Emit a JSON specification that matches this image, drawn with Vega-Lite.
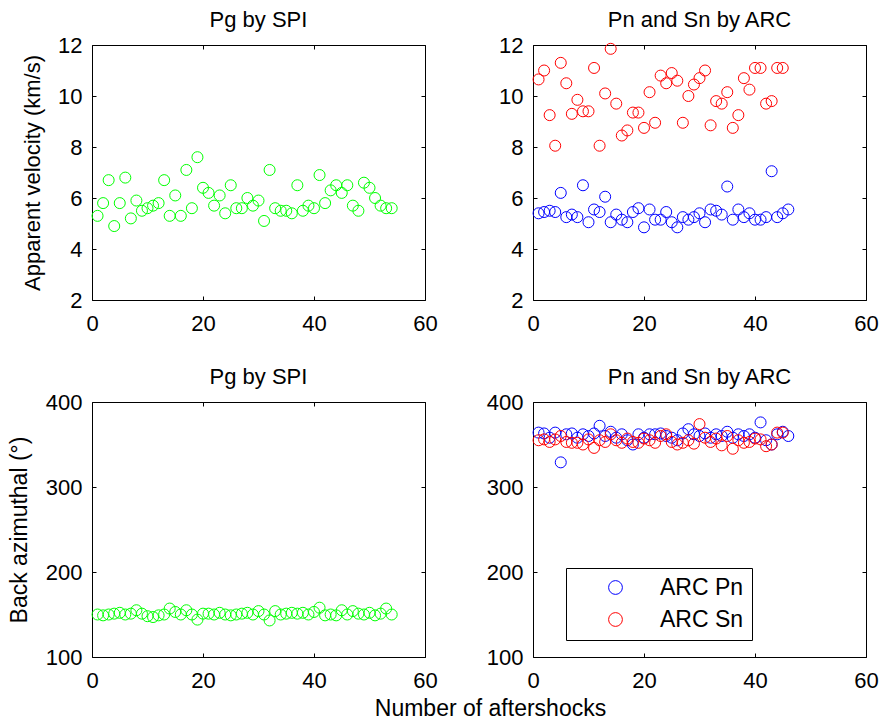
{
  "$schema": "https://vega.github.io/schema/vega-lite/v6.json",
  "autosize": "none",
  "padding": {"left": 92, "top": 45, "right": 793, "bottom": 679},
  "datasets": {
    "spi": [
      {"n":1,"vel":5.3,"baz":150},{"n":2,"vel":5.8,"baz":149},{"n":3,"vel":6.7,"baz":150},{"n":4,"vel":4.9,"baz":151},
      {"n":5,"vel":5.8,"baz":152},{"n":6,"vel":6.8,"baz":150},{"n":7,"vel":5.2,"baz":151},{"n":8,"vel":5.9,"baz":155},
      {"n":9,"vel":5.5,"baz":151},{"n":10,"vel":5.6,"baz":148},{"n":11,"vel":5.7,"baz":147},{"n":12,"vel":5.8,"baz":149},
      {"n":13,"vel":6.7,"baz":150},{"n":14,"vel":5.3,"baz":157},{"n":15,"vel":6.1,"baz":153},{"n":16,"vel":5.3,"baz":150},
      {"n":17,"vel":7.1,"baz":155},{"n":18,"vel":5.6,"baz":150},{"n":19,"vel":7.6,"baz":144},{"n":20,"vel":6.4,"baz":151},
      {"n":21,"vel":6.2,"baz":151},{"n":22,"vel":5.7,"baz":150},{"n":23,"vel":6.1,"baz":152},{"n":24,"vel":5.4,"baz":150},
      {"n":25,"vel":6.5,"baz":149},{"n":26,"vel":5.6,"baz":150},{"n":27,"vel":5.6,"baz":151},{"n":28,"vel":6.0,"baz":152},
      {"n":29,"vel":5.7,"baz":150},{"n":30,"vel":5.9,"baz":154},{"n":31,"vel":5.1,"baz":150},{"n":32,"vel":7.1,"baz":143},
      {"n":33,"vel":5.6,"baz":154},{"n":34,"vel":5.5,"baz":150},{"n":35,"vel":5.5,"baz":151},{"n":36,"vel":5.4,"baz":152},
      {"n":37,"vel":6.5,"baz":151},{"n":38,"vel":5.5,"baz":152},{"n":39,"vel":5.7,"baz":150},{"n":40,"vel":5.6,"baz":153},
      {"n":41,"vel":6.9,"baz":158},{"n":42,"vel":5.8,"baz":149},{"n":43,"vel":6.3,"baz":150},{"n":44,"vel":6.5,"baz":149},
      {"n":45,"vel":6.2,"baz":155},{"n":46,"vel":6.5,"baz":150},{"n":47,"vel":5.7,"baz":154},{"n":48,"vel":5.5,"baz":151},
      {"n":49,"vel":6.6,"baz":150},{"n":50,"vel":6.4,"baz":152},{"n":51,"vel":6.0,"baz":149},{"n":52,"vel":5.7,"baz":151},
      {"n":53,"vel":5.6,"baz":157},{"n":54,"vel":5.6,"baz":150}
    ],
    "arc": [
      {"n":1,"phase":"ARC Pn","vel":5.4,"baz":364},{"n":2,"phase":"ARC Pn","vel":5.45,"baz":363},{"n":3,"phase":"ARC Pn","vel":5.5,"baz":358},
      {"n":4,"phase":"ARC Pn","vel":5.45,"baz":364},{"n":5,"phase":"ARC Pn","vel":6.2,"baz":329},{"n":6,"phase":"ARC Pn","vel":5.25,"baz":362},
      {"n":7,"phase":"ARC Pn","vel":5.35,"baz":363},{"n":8,"phase":"ARC Pn","vel":5.25,"baz":358},{"n":9,"phase":"ARC Pn","vel":6.5,"baz":362},
      {"n":10,"phase":"ARC Pn","vel":5.05,"baz":360},{"n":11,"phase":"ARC Pn","vel":5.55,"baz":363},{"n":12,"phase":"ARC Pn","vel":5.45,"baz":372},
      {"n":13,"phase":"ARC Pn","vel":6.05,"baz":360},{"n":14,"phase":"ARC Pn","vel":5.05,"baz":365},{"n":15,"phase":"ARC Pn","vel":5.35,"baz":358},
      {"n":16,"phase":"ARC Pn","vel":5.15,"baz":362},{"n":17,"phase":"ARC Pn","vel":5.05,"baz":355},{"n":18,"phase":"ARC Pn","vel":5.45,"baz":350},
      {"n":19,"phase":"ARC Pn","vel":5.6,"baz":362},{"n":20,"phase":"ARC Pn","vel":4.85,"baz":358},{"n":21,"phase":"ARC Pn","vel":5.55,"baz":362},
      {"n":22,"phase":"ARC Pn","vel":5.15,"baz":362},{"n":23,"phase":"ARC Pn","vel":5.15,"baz":363},{"n":24,"phase":"ARC Pn","vel":5.45,"baz":360},
      {"n":25,"phase":"ARC Pn","vel":5.05,"baz":358},{"n":26,"phase":"ARC Pn","vel":4.85,"baz":355},{"n":27,"phase":"ARC Pn","vel":5.25,"baz":363},
      {"n":28,"phase":"ARC Pn","vel":5.15,"baz":368},{"n":29,"phase":"ARC Pn","vel":5.25,"baz":362},{"n":30,"phase":"ARC Pn","vel":5.4,"baz":360},
      {"n":31,"phase":"ARC Pn","vel":5.05,"baz":363},{"n":32,"phase":"ARC Pn","vel":5.55,"baz":358},{"n":33,"phase":"ARC Pn","vel":5.5,"baz":362},
      {"n":34,"phase":"ARC Pn","vel":5.35,"baz":360},{"n":35,"phase":"ARC Pn","vel":6.45,"baz":365},{"n":36,"phase":"ARC Pn","vel":5.15,"baz":358},
      {"n":37,"phase":"ARC Pn","vel":5.55,"baz":362},{"n":38,"phase":"ARC Pn","vel":5.25,"baz":360},{"n":39,"phase":"ARC Pn","vel":5.4,"baz":362},
      {"n":40,"phase":"ARC Pn","vel":5.15,"baz":358},{"n":41,"phase":"ARC Pn","vel":5.15,"baz":376},{"n":42,"phase":"ARC Pn","vel":5.25,"baz":355},
      {"n":43,"phase":"ARC Pn","vel":7.05,"baz":350},{"n":44,"phase":"ARC Pn","vel":5.25,"baz":362},{"n":45,"phase":"ARC Pn","vel":5.4,"baz":365},
      {"n":46,"phase":"ARC Pn","vel":5.55,"baz":360},
      {"n":1,"phase":"ARC Sn","vel":10.65,"baz":355},{"n":2,"phase":"ARC Sn","vel":11.0,"baz":356},{"n":3,"phase":"ARC Sn","vel":9.25,"baz":353},
      {"n":4,"phase":"ARC Sn","vel":8.05,"baz":356},{"n":5,"phase":"ARC Sn","vel":11.3,"baz":360},{"n":6,"phase":"ARC Sn","vel":10.5,"baz":353},
      {"n":7,"phase":"ARC Sn","vel":9.3,"baz":352},{"n":8,"phase":"ARC Sn","vel":9.85,"baz":352},{"n":9,"phase":"ARC Sn","vel":9.4,"baz":350},
      {"n":10,"phase":"ARC Sn","vel":9.4,"baz":356},{"n":11,"phase":"ARC Sn","vel":11.1,"baz":346},{"n":12,"phase":"ARC Sn","vel":8.05,"baz":355},
      {"n":13,"phase":"ARC Sn","vel":10.1,"baz":353},{"n":14,"phase":"ARC Sn","vel":11.85,"baz":362},{"n":15,"phase":"ARC Sn","vel":9.7,"baz":355},
      {"n":16,"phase":"ARC Sn","vel":8.45,"baz":352},{"n":17,"phase":"ARC Sn","vel":8.65,"baz":357},{"n":18,"phase":"ARC Sn","vel":9.35,"baz":353},
      {"n":19,"phase":"ARC Sn","vel":9.35,"baz":352},{"n":20,"phase":"ARC Sn","vel":8.75,"baz":357},{"n":21,"phase":"ARC Sn","vel":10.15,"baz":355},
      {"n":22,"phase":"ARC Sn","vel":8.95,"baz":352},{"n":23,"phase":"ARC Sn","vel":10.8,"baz":360},{"n":24,"phase":"ARC Sn","vel":10.5,"baz":362},
      {"n":25,"phase":"ARC Sn","vel":10.9,"baz":353},{"n":26,"phase":"ARC Sn","vel":10.6,"baz":350},{"n":27,"phase":"ARC Sn","vel":8.95,"baz":352},
      {"n":28,"phase":"ARC Sn","vel":10.0,"baz":355},{"n":29,"phase":"ARC Sn","vel":10.45,"baz":351},{"n":30,"phase":"ARC Sn","vel":10.7,"baz":374},
      {"n":31,"phase":"ARC Sn","vel":11.0,"baz":358},{"n":32,"phase":"ARC Sn","vel":8.85,"baz":353},{"n":33,"phase":"ARC Sn","vel":9.8,"baz":357},
      {"n":34,"phase":"ARC Sn","vel":9.7,"baz":349},{"n":35,"phase":"ARC Sn","vel":10.15,"baz":360},{"n":36,"phase":"ARC Sn","vel":8.75,"baz":345},
      {"n":37,"phase":"ARC Sn","vel":9.25,"baz":355},{"n":38,"phase":"ARC Sn","vel":10.7,"baz":352},{"n":39,"phase":"ARC Sn","vel":10.25,"baz":353},
      {"n":40,"phase":"ARC Sn","vel":11.1,"baz":357},{"n":41,"phase":"ARC Sn","vel":11.1,"baz":356},{"n":42,"phase":"ARC Sn","vel":9.7,"baz":348},
      {"n":43,"phase":"ARC Sn","vel":9.8,"baz":350},{"n":44,"phase":"ARC Sn","vel":11.1,"baz":364},{"n":45,"phase":"ARC Sn","vel":11.1,"baz":364}
    ]
  },
  "columns": 2,
  "spacing": {"row": 102, "column": 108},
  "bounds": "flush",
  "resolve": {"scale": {"color": "independent"}, "legend": {"color": "independent"}},
  "concat": [
    {
      "width": 333, "height": 255,
      "title": "Pg by SPI",
      "data": {"name": "spi"},
      "layer": [
        {
          "mark": {"type": "point", "filled": false, "size": 121, "strokeWidth": 1, "color": "#00ff00", "opacity": 1},
          "encoding": {
            "x": {"field": "n", "type": "quantitative", "scale": {"domain": [0, 60]}, "axis": {"orient": "bottom", "values": [0, 20, 40, 60], "title": null}},
            "y": {"field": "vel", "type": "quantitative", "scale": {"domain": [2, 12]}, "axis": {"orient": "left", "values": [2, 4, 6, 8, 10, 12], "title": "Apparent velocity (km/s)", "titlePadding": 13, "titleFontSize": 22}}
          }
        },
        {
          "mark": {"type": "point", "opacity": 0},
          "encoding": {
            "x": {"field": "n", "type": "quantitative", "axis": {"orient": "top", "values": [0, 20, 40, 60], "labels": false, "title": null}},
            "y": {"field": "vel", "type": "quantitative", "axis": {"orient": "right", "values": [2, 4, 6, 8, 10, 12], "labels": false, "title": null}}
          }
        }
      ],
      "resolve": {"axis": {"x": "independent", "y": "independent"}}
    },
    {
      "width": 333, "height": 255,
      "title": "Pn and Sn by ARC",
      "data": {"name": "arc"},
      "layer": [
        {
          "mark": {"type": "point", "filled": false, "size": 121, "strokeWidth": 1, "opacity": 1},
          "encoding": {
            "x": {"field": "n", "type": "quantitative", "scale": {"domain": [0, 60]}, "axis": {"orient": "bottom", "values": [0, 20, 40, 60], "title": null}},
            "y": {"field": "vel", "type": "quantitative", "scale": {"domain": [2, 12]}, "axis": {"orient": "left", "values": [2, 4, 6, 8, 10, 12], "title": null}},
            "color": {"field": "phase", "type": "nominal", "scale": {"domain": ["ARC Pn", "ARC Sn"], "range": ["#0000ff", "#ff0000"]}, "legend": null}
          }
        },
        {
          "mark": {"type": "point", "opacity": 0},
          "encoding": {
            "x": {"field": "n", "type": "quantitative", "axis": {"orient": "top", "values": [0, 20, 40, 60], "labels": false, "title": null}},
            "y": {"field": "vel", "type": "quantitative", "axis": {"orient": "right", "values": [2, 4, 6, 8, 10, 12], "labels": false, "title": null}}
          }
        }
      ],
      "resolve": {"axis": {"x": "independent", "y": "independent"}}
    },
    {
      "width": 333, "height": 255,
      "title": "Pg by SPI",
      "data": {"name": "spi"},
      "layer": [
        {
          "mark": {"type": "point", "filled": false, "size": 121, "strokeWidth": 1, "color": "#00ff00", "opacity": 1},
          "encoding": {
            "x": {"field": "n", "type": "quantitative", "scale": {"domain": [0, 60]}, "axis": {"orient": "bottom", "values": [0, 20, 40, 60], "title": "Number of aftershocks", "titleX": 398, "titleY": 40}},
            "y": {"field": "baz", "type": "quantitative", "scale": {"domain": [100, 400]}, "axis": {"orient": "left", "values": [100, 200, 300, 400], "title": "Back azimuthal (°)", "titlePadding": 14}}
          }
        },
        {
          "mark": {"type": "point", "opacity": 0},
          "encoding": {
            "x": {"field": "n", "type": "quantitative", "axis": {"orient": "top", "values": [0, 20, 40, 60], "labels": false, "title": null}},
            "y": {"field": "baz", "type": "quantitative", "axis": {"orient": "right", "values": [100, 200, 300, 400], "labels": false, "title": null}}
          }
        }
      ],
      "resolve": {"axis": {"x": "independent", "y": "independent"}}
    },
    {
      "width": 333, "height": 255,
      "title": "Pn and Sn by ARC",
      "data": {"name": "arc"},
      "layer": [
        {
          "mark": {"type": "point", "filled": false, "size": 121, "strokeWidth": 1, "opacity": 1},
          "encoding": {
            "x": {"field": "n", "type": "quantitative", "scale": {"domain": [0, 60]}, "axis": {"orient": "bottom", "values": [0, 20, 40, 60], "title": null}},
            "y": {"field": "baz", "type": "quantitative", "scale": {"domain": [100, 400]}, "axis": {"orient": "left", "values": [100, 200, 300, 400], "title": null}},
            "color": {"field": "phase", "type": "nominal", "scale": {"domain": ["ARC Pn", "ARC Sn"], "range": ["#0000ff", "#ff0000"]},
              "legend": {"title": null, "orient": "none", "legendX": 33, "legendY": 166, "symbolOffset": 30, "labelOffset": 33, "rowPadding": 8, "padding": 8, "symbolSize": 190, "symbolStrokeWidth": 1, "labelFontSize": 23, "labelColor": "black", "strokeColor": "black", "fillColor": "white"}}
          }
        },
        {
          "mark": {"type": "point", "opacity": 0},
          "encoding": {
            "x": {"field": "n", "type": "quantitative", "axis": {"orient": "top", "values": [0, 20, 40, 60], "labels": false, "title": null}},
            "y": {"field": "baz", "type": "quantitative", "axis": {"orient": "right", "values": [100, 200, 300, 400], "labels": false, "title": null}}
          }
        }
      ],
      "resolve": {"axis": {"x": "independent", "y": "independent"}}
    }
  ],
  "config": {
    "font": "Liberation Sans",
    "view": {"stroke": null},
    "axis": {"grid": false, "domainColor": "black", "domainWidth": 1, "tickColor": "black", "tickSize": -4, "labelColor": "black", "labelFontSize": 22, "labelFlush": false, "labelOverlap": false, "titleFontSize": 23, "titleFontWeight": "normal", "titleColor": "black", "labelFont": "Liberation Sans", "titleFont": "Liberation Sans"},
    "axisX": {"labelPadding": 17},
    "axisY": {"labelPadding": 14},
    "title": {"fontSize": 22, "fontWeight": "normal", "font": "Liberation Sans", "offset": 2, "color": "black"},
    "legend": {"labelFont": "Liberation Sans"}
  }
}
